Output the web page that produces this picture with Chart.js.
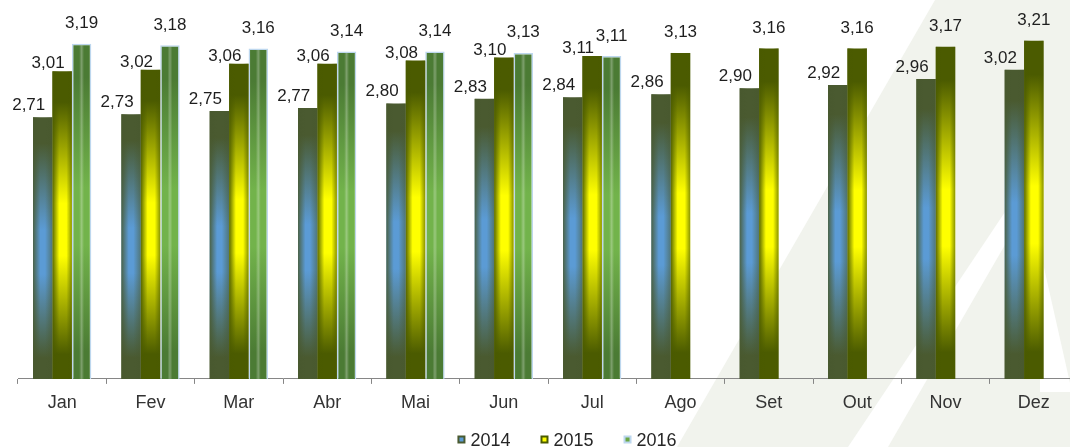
<!DOCTYPE html>
<html>
<head>
<meta charset="utf-8">
<script src="https://cdn.jsdelivr.net/npm/chart.js@4"></script>
<style>
  html, body { margin: 0; padding: 0; background: #ffffff; overflow: hidden; }
  #wrap { position: relative; width: 1080px; height: 447px; }
</style>
</head>
<body>
<div id="wrap"><canvas id="chart"></canvas></div>
<script>
// Monthly values per year
const months = ['Jan', 'Fev', 'Mar', 'Abr', 'Mai', 'Jun', 'Jul', 'Ago', 'Set', 'Out', 'Nov', 'Dez'];
const seriesNames = ['2014', '2015', '2016'];
const values2014 = [2.71, 2.73, 2.75, 2.77, 2.80, 2.83, 2.84, 2.86, 2.90, 2.92, 2.96, 3.02];
const values2015 = [3.01, 3.02, 3.06, 3.06, 3.08, 3.10, 3.11, 3.13, 3.16, 3.16, 3.17, 3.21];
const values2016 = [3.19, 3.18, 3.16, 3.14, 3.14, 3.13, 3.11, null, null, null, null, null];

const FONT = '"Liberation Sans", Arial, Helvetica, sans-serif';
const Y_MIN = 1;
const Y_MAX = 3.45;

// Look of each series: dark rim colour, bright core colour, side shading, label gap
const looks = [
  {
    edge: '#4a5a30', core: '#5b9bd5',
    side: [[0, 'rgba(72,88,46,0.85)'], [0.38, 'rgba(72,88,46,0)'], [0.62, 'rgba(72,88,46,0)'], [1, 'rgba(72,88,46,0.55)']],
    labelGap: 7, legendEdge: '#4a5a30', legendCore: '#5b9bd5'
  },
  {
    edge: '#4b5b00', core: '#ffff00',
    side: [[0, 'rgba(74,90,0,0.9)'], [0.35, 'rgba(74,90,0,0)'], [0.72, 'rgba(74,90,0,0)'], [1, 'rgba(74,90,0,0.65)']],
    labelGap: 3, legendEdge: '#4b5b00', legendCore: '#ffff00'
  },
  {
    edge: '#4b7b34', core: '#72b34b', border: '#bdd7ee', borderWidth: 1.5,
    side: [[0, 'rgba(255,255,255,0)'], [0.35, 'rgba(255,255,255,0)'], [0.5, 'rgba(255,255,255,0.28)'], [0.65, 'rgba(255,255,255,0)'], [1, 'rgba(255,255,255,0)']],
    labelGap: 15.5, legendEdge: '#bdd7ee', legendCore: '#6aa744'
  }
];

// Vertical rim-core-rim gradient sized to each bar
function barFill(look) {
  return (c) => {
    if (c.type !== 'data' || c.raw == null) return look.edge;
    const chart = c.chart;
    if (!chart.chartArea) return look.edge;
    const ys = chart.scales.y;
    const top = ys.getPixelForValue(c.raw);
    const base = ys.getPixelForValue(ys.min);
    const g = chart.ctx.createLinearGradient(0, top, 0, base);
    g.addColorStop(0, look.edge);
    g.addColorStop(0.1, look.edge);
    g.addColorStop(0.43, look.core);
    g.addColorStop(0.6, look.core);
    g.addColorStop(0.92, look.edge);
    g.addColorStop(1, look.edge);
    return g;
  };
}

// Light backdrop with diagonal panels on the right
const backdrop = {
  id: 'backdrop',
  beforeDraw(chart) {
    const ctx = chart.ctx;
    const poly = (pts, color) => {
      ctx.beginPath();
      ctx.moveTo(pts[0][0], pts[0][1]);
      for (let i = 1; i < pts.length; i++) ctx.lineTo(pts[i][0], pts[i][1]);
      ctx.closePath();
      ctx.fillStyle = color;
      ctx.fill();
    };
    ctx.save();
    ctx.fillStyle = '#ffffff';
    ctx.fillRect(0, 0, chart.width, chart.height);
    poly([[935, 0], [1080, 0], [1080, 447], [677, 447]], '#f1f3ed');
    poly([[848, 447], [888, 447], [1024, 212], [1005, 212]], '#ffffff');
    poly([[1040, 250], [1072, 392], [1040, 392]], '#ffffff');
    ctx.restore();
  }
};

// Side shading so the bars read as rounded columns
const barShading = {
  id: 'barShading',
  afterDatasetsDraw(chart) {
    const ctx = chart.ctx;
    const area = chart.chartArea;
    ctx.save();
    ctx.beginPath();
    ctx.rect(area.left, area.top, area.right - area.left, area.bottom - area.top);
    ctx.clip();
    chart.data.datasets.forEach((ds, di) => {
      const look = looks[di];
      const meta = chart.getDatasetMeta(di);
      meta.data.forEach((el, i) => {
        if (ds.data[i] == null) return;
        const p = el.getProps(['x', 'y', 'base', 'width'], true);
        const bottom = Math.min(p.base, area.bottom);
        const inset = look.borderWidth || 0;
        const left = p.x - p.width / 2 + inset;
        const w = p.width - 2 * inset;
        const top = p.y + inset;
        const h = bottom - p.y - inset;
        const g = ctx.createLinearGradient(left, 0, left + w, 0);
        look.side.forEach(([o, col]) => g.addColorStop(o, col));
        ctx.fillStyle = g;
        ctx.fillRect(left, top, w, h);
      });
    });
    ctx.restore();
  }
};

// Value labels written with a decimal comma
const valueLabels = {
  id: 'valueLabels',
  afterDatasetsDraw(chart) {
    const ctx = chart.ctx;
    ctx.save();
    ctx.font = '17px ' + FONT;
    ctx.fillStyle = '#1e1e1e';
    ctx.textAlign = 'center';
    ctx.textBaseline = 'alphabetic';
    chart.data.datasets.forEach((ds, di) => {
      const meta = chart.getDatasetMeta(di);
      const next = chart.data.datasets[di + 1];
      meta.data.forEach((el, i) => {
        const v = ds.data[i];
        if (v == null) return;
        const crowded = next && next.data[i] != null;
        const dx = crowded ? -14 : 0;
        const gap = crowded ? looks[di].labelGap : 15.5;
        ctx.fillText(v.toFixed(2).replace('.', ','), el.x + dx, el.y - gap);
      });
    });
    ctx.restore();
  }
};

// Legend row under the axis
const legendRow = {
  id: 'legendRow',
  afterDraw(chart) {
    const ctx = chart.ctx;
    const centerX = 567, boxY = 439.5, box = 8, gap = 5, spacing = 30;
    ctx.save();
    ctx.font = '18px ' + FONT;
    const items = chart.data.datasets.map((ds, di) => ({
      text: ds.label, look: looks[di], w: ctx.measureText(ds.label).width
    }));
    const total = items.reduce((s, it) => s + box + gap + it.w, 0) + spacing * (items.length - 1);
    let x = centerX - total / 2;
    items.forEach((it) => {
      ctx.fillStyle = it.look.legendEdge;
      ctx.fillRect(x, boxY - box / 2, box, box);
      ctx.fillStyle = it.look.legendCore;
      ctx.fillRect(x + 2, boxY - box / 2 + 2, box - 4, box - 4);
      ctx.fillStyle = '#262626';
      ctx.textAlign = 'left';
      ctx.textBaseline = 'alphabetic';
      ctx.fillText(it.text, x + box + gap, 446);
      x += box + gap + it.w + spacing;
    });
    ctx.restore();
  }
};

const seriesValues = [values2014, values2015, values2016];

new Chart(document.getElementById('chart'), {
  type: 'bar',
  data: {
    labels: months,
    datasets: seriesNames.map((name, di) => ({
      label: name,
      data: seriesValues[di],
      backgroundColor: barFill(looks[di]),
      borderColor: looks[di].border || looks[di].edge,
      borderWidth: looks[di].borderWidth || 0,
      borderSkipped: 'bottom',
      base: Y_MIN,
      barPercentage: 1,
      categoryPercentage: 0.66
    }))
  },
  options: {
    responsive: true,
    maintainAspectRatio: false,
    animation: false,
    events: [],
    layout: { padding: { left: 18, right: 2, top: 4, bottom: 24.5 } },
    plugins: {
      legend: { display: false },
      tooltip: { enabled: false },
      title: { display: false }
    },
    scales: {
      x: {
        offset: true,
        grid: {
          offset: true,
          drawOnChartArea: false,
          drawTicks: true,
          tickLength: 5,
          color: '#868686'
        },
        border: { display: true, color: '#868686', width: 1 },
        ticks: {
          color: '#333333',
          padding: 8.5,
          font: { family: FONT, size: 18 },
          maxRotation: 0
        }
      },
      y: {
        display: false,
        min: Y_MIN,
        max: Y_MAX
      }
    }
  },
  plugins: [backdrop, barShading, valueLabels, legendRow]
});
</script>
</body>
</html>
